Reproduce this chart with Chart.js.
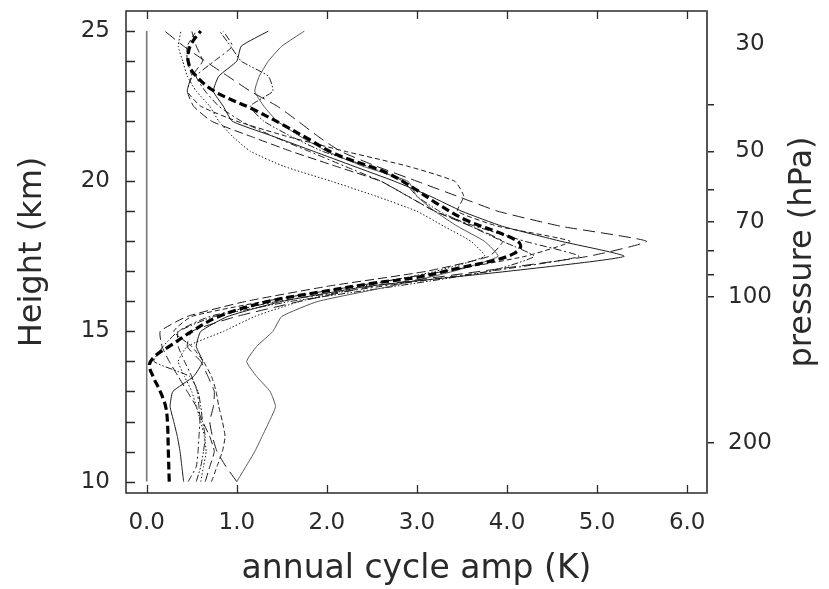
<!DOCTYPE html>
<html><head><meta charset="utf-8">
<script src="https://cdn.jsdelivr.net/npm/chart.js@4"></script>
<style>html,body{margin:0;padding:0;background:#fff}canvas{display:block}</style>
</head><body>
<canvas id="c" width="829" height="589"></canvas>
<script>
// ---- data ----
const heights = [10,10.5,11,11.5,12,12.5,13,13.5,14,14.5,15,15.5,16,16.5,17,17.5,18,18.5,19,19.5,20,20.5,21,21.5,22,22.5,23,23.5,24,24.5,25];
const s1 = [0.41,0.39,0.37,0.34,0.30,0.26,0.29,0.52,0.62,0.55,0.60,0.90,1.50,2.45,4.00,5.30,4.60,3.95,3.50,3.15,2.75,2.30,1.85,1.40,0.95,0.85,0.74,0.80,1.00,1.05,1.35];
const s2 = [1.00,0.88,0.78,0.73,0.70,0.74,0.75,0.68,0.60,0.45,0.50,1.00,1.70,2.50,3.70,4.90,5.55,4.60,3.90,3.45,3.00,2.55,2.15,1.90,1.68,1.45,1.15,0.90,0.65,0.41,0.20];
const s3 = [0.46,0.55,0.57,0.58,0.59,0.58,0.56,0.50,0.42,0.35,0.35,0.70,1.45,2.60,3.80,4.80,4.20,3.65,3.20,2.90,2.60,2.20,1.80,1.40,1.05,0.80,0.65,0.55,0.75,0.95,0.85];
const s4 = [0.72,0.78,0.84,0.87,0.84,0.80,0.77,0.72,0.63,0.50,0.30,0.50,1.30,2.30,3.30,4.20,4.70,3.90,3.45,3.52,3.42,2.90,2.20,1.55,1.00,0.60,0.45,0.50,0.45,0.45,0.55];
const s5 = [1.00,1.10,1.20,1.28,1.36,1.43,1.37,1.22,1.11,1.22,1.40,1.50,1.90,2.70,3.40,3.90,3.75,3.45,3.20,3.00,2.90,2.40,2.00,1.70,1.45,1.30,1.20,1.25,1.35,1.50,1.75];
const s6 = [0.60,0.63,0.66,0.64,0.60,0.55,0.50,0.42,0.35,0.45,0.85,1.20,1.70,2.40,3.20,3.75,3.60,3.30,3.00,2.55,2.05,1.52,1.15,0.95,0.80,0.70,0.55,0.45,0.40,0.35,0.38];
const s7 = [0.55,0.60,0.63,0.65,0.62,0.60,0.57,0.48,0.08,0.18,0.35,0.75,1.60,2.75,3.80,4.30,3.95,3.60,3.25,3.00,2.85,2.45,1.95,1.60,1.30,1.15,1.40,1.35,1.05,0.93,0.81];
const s8 = [0.65,0.70,0.75,0.70,0.62,0.55,0.45,0.35,0.25,0.17,0.15,0.45,1.10,2.00,3.10,3.80,3.95,3.60,3.20,2.90,2.60,2.10,1.60,1.15,0.72,0.52,0.45,0.50,0.62,0.55,0.50];
const meanHeights = [10,11,12,12.5,13,13.5,13.9,14.2,14.5,15,15.5,16,16.3,16.6,16.8,17.1,17.4,17.6,17.8,18,18.3,18.7,19.3,19.8,20.3,20.9,21.4,21.9,22.4,23,23.6,24,24.4,24.7,25];
const meanAmp = [0.25,0.24,0.23,0.21,0.15,0.07,0.03,0.10,0.25,0.50,0.80,1.35,1.90,2.50,3.00,3.45,3.90,4.08,4.15,4.12,3.90,3.55,3.20,2.95,2.65,2.10,1.80,1.50,1.18,0.75,0.52,0.46,0.47,0.52,0.60];
const zeroKm = [10,25];
const zeroAmp = [0,0];
const xTicks = [0,1,2,3,4,5,6];
const heightTicks = [10,11,12,13,14,15,16,17,18,19,20,21,22,23,24,25];
const heightLabels = [10,15,20,25];
const pressureTicks = [30,40,50,60,70,80,90,100,200];
const pressureLabels = [30,50,70,100,200];
const xTitle = 'annual cycle amp (K)';
const yTitle = 'Height (km)';
const pTitle = 'pressure (hPa)';

// pressure -> height (km), scale height 7 km, 100 hPa at 16.14 km
const zOfP = p => 16.14 + 7.0 * Math.log(100 / p);
const pts = (amps, hs) => amps.map((v, i) => ({x: v, y: hs[i]}));
const FONT = '"DejaVu Sans", sans-serif';
const INK = '#2a2a2a';

const thin = (data, dash, color) => ({
  data: pts(data, heights), borderColor: color || '#1a1a1a', borderWidth: 1,
  borderDash: dash, pointRadius: 0, showLine: true, tension: 0.15, fill: false
});

const noPad = s => { s.paddingTop = 0; s.paddingBottom = 0; s.paddingLeft = 0; s.paddingRight = 0; };

const innerTicks = {
  id: 'innerTicks',
  afterDraw(chart) {
    const {ctx, chartArea: a, scales: {x, y}} = chart;
    ctx.save();
    ctx.strokeStyle = INK; ctx.lineWidth = 1.3;
    ctx.beginPath();
    x.ticks.forEach(t => {
      const px = Math.round(x.getPixelForValue(t.value)) + 0.5;
      ctx.moveTo(px, a.bottom); ctx.lineTo(px, a.bottom - 8);
      ctx.moveTo(px, a.top); ctx.lineTo(px, a.top + 8);
    });
    y.ticks.forEach(t => {
      const py = Math.round(y.getPixelForValue(t.value)) + 0.5;
      ctx.moveTo(a.left, py); ctx.lineTo(a.left + 9, py);
    });
    ctx.stroke();
    ctx.lineWidth = 1.5; ctx.strokeStyle = INK;
    ctx.strokeRect(a.left, a.top, a.right - a.left, a.bottom - a.top);
    ctx.strokeStyle = '#555'; ctx.lineWidth = 2;
    ctx.beginPath(); ctx.moveTo(a.right, a.top); ctx.lineTo(a.right, a.bottom); ctx.stroke();
    ctx.translate(803, (a.top + a.bottom) / 2);
    ctx.rotate(-Math.PI / 2);
    ctx.textAlign = 'center'; ctx.textBaseline = 'middle';
    ctx.font = '32px ' + FONT; ctx.fillStyle = INK;
    ctx.fillText(pTitle, 0, 0);
    ctx.restore();
  }
};

new Chart(document.getElementById('c'), {
  type: 'scatter',
  data: {
    datasets: [
      {data: pts(meanAmp, meanHeights), borderColor: '#000', borderWidth: 3.2, borderDash: [8, 4],
       pointRadius: 0, showLine: true, tension: 0.35, fill: false},
      thin(s1, []),
      thin(s2, [12, 6]),
      thin(s3, [7, 3, 2, 3]),
      thin(s4, [5, 3]),
      thin(s5, [], '#555'),
      thin(s6, [1.5, 2]),
      thin(s7, [7, 2, 1.5, 2, 1.5, 2]),
      thin(s8, [9, 4]),
      {data: pts(zeroAmp, zeroKm), borderColor: '#777', borderWidth: 1.6, pointRadius: 0, showLine: true, fill: false}
    ]
  },
  options: {
    responsive: false, animation: false, devicePixelRatio: 1,
    layout: {padding: {top: 11, left: 0, right: 0, bottom: 0}},
    plugins: {legend: {display: false}, tooltip: {enabled: false}},
    scales: {
      x: {
        type: 'linear', position: 'bottom', min: -0.23, max: 6.22,
        afterBuildTicks: s => { s.ticks = xTicks.map(v => ({value: v})); },
        afterFit: s => { s.height = 96; noPad(s); },
        grid: {display: false, drawTicks: false},
        border: {display: false},
        ticks: {callback: v => Number(v).toFixed(1), font: {family: FONT, size: 23}, color: INK, padding: 16, maxRotation: 0, autoSkip: false},
        title: {display: true, text: xTitle, font: {family: FONT, size: 33}, color: INK, padding: {top: 0, bottom: 0}}
      },
      y: {
        type: 'linear', position: 'left', min: 9.62, max: 25.67,
        afterBuildTicks: s => { s.ticks = heightTicks.map(v => ({value: v})); },
        afterFit: s => { s.width = 126; noPad(s); },
        grid: {display: false, drawTicks: false},
        border: {display: false},
        ticks: {callback: v => heightLabels.includes(v) ? String(v) : '', font: {family: FONT, size: 23}, color: INK, padding: 16, autoSkip: false},
        title: {display: true, text: yTitle, font: {family: FONT, size: 32}, color: INK, padding: {top: 13, bottom: 0}}
      },
      y2: {
        type: 'linear', position: 'right', min: 9.62, max: 25.67,
        afterBuildTicks: s => { s.ticks = pressureTicks.map(p => ({value: zOfP(p)})); },
        afterFit: s => { s.width = 122; noPad(s); },
        grid: {display: true, drawOnChartArea: false, drawTicks: true, tickLength: 7, lineWidth: 1.5,
               tickColor: c => (c.tick && Math.abs(c.tick.value - zOfP(30)) < 1e-6) ? 'rgba(0,0,0,0)' : INK},
        border: {display: false},
        ticks: {
          callback: (v, i) => { const p = pressureTicks[i]; return pressureLabels.includes(p) ? String(p) : ''; },
          font: {family: FONT, size: 23}, color: INK, padding: 14, crossAlign: 'center', autoSkip: false
        },
        title: {display: false}
      }
    }
  },
  plugins: [innerTicks]
});
</script>
</body></html>
